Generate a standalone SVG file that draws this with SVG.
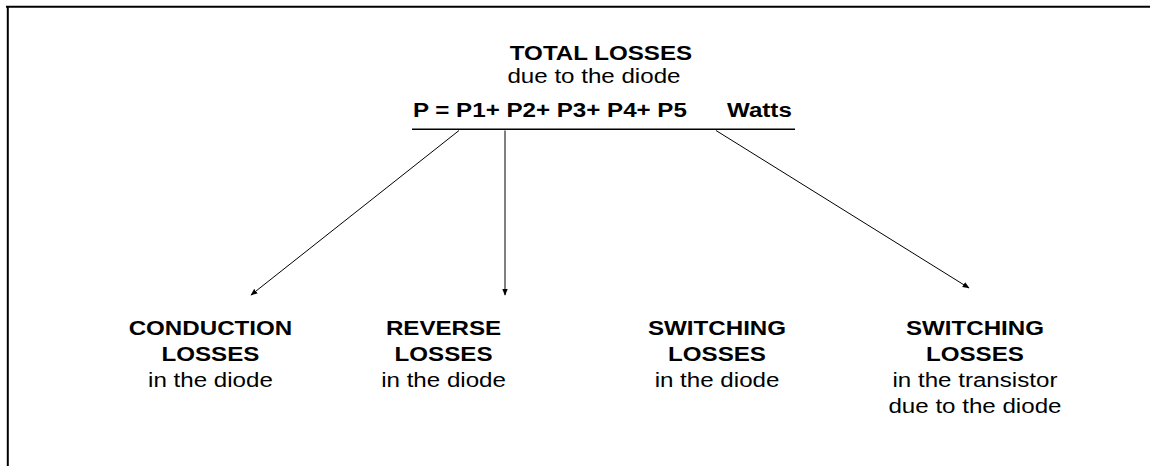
<svg xmlns="http://www.w3.org/2000/svg" width="1150" height="466" viewBox="0 0 1150 466">
<style>
text{font-family:"Liberation Sans",Arial,sans-serif;font-size:21px;fill:#000}
.b{font-weight:bold}
.c{text-anchor:middle}
.frame{stroke:#000;stroke-width:2;fill:none}
.conn{stroke:#000;stroke-width:1;fill:none;marker-end:url(#ah)}
</style>
<defs>
<marker id="ah" viewBox="0 0 10 10" refX="9" refY="5" markerWidth="7" markerHeight="7" markerUnits="userSpaceOnUse" orient="auto">
<path d="M0,1 L10,5 L0,9 Z" fill="#000"/>
</marker>
</defs>
<rect width="1150" height="466" fill="#fff"/>
<g id="frame">
<line class="frame" x1="6" y1="6.7" x2="1150" y2="6.7"/>
<line class="frame" x1="7.8" y1="6" x2="7.8" y2="466"/>
</g>
<g id="total">
<g transform="scale(1.15 1)">
<text class="b c" x="522.6" y="60">TOTAL LOSSES</text>
<text class="c" x="516.5" y="83">due to the diode</text>
<text class="b" x="359.1" y="117">P = P1+ P2+ P3+ P4+ P5</text>
<text class="b" x="632.2" y="117">Watts</text>
</g>
<line x1="412" y1="129.3" x2="795" y2="129.3" stroke="#000" stroke-width="1.6"/>
</g>
<g id="connectors">
<line class="conn" x1="459" y1="130.5" x2="251" y2="295"/>
<line class="conn" x1="505" y1="130.5" x2="505" y2="295"/>
<line class="conn" x1="716" y1="130.5" x2="969" y2="288"/>
</g>
<g id="conduction" transform="scale(1.15 1)">
<text class="b c" x="183" y="335">CONDUCTION</text>
<text class="b c" x="183" y="361">LOSSES</text>
<text class="c" x="183" y="387">in the diode</text>
</g>
<g id="reverse" transform="scale(1.15 1)">
<text class="b c" x="385.7" y="335">REVERSE</text>
<text class="b c" x="385.7" y="361">LOSSES</text>
<text class="c" x="385.7" y="387">in the diode</text>
</g>
<g id="switching-diode" transform="scale(1.15 1)">
<text class="b c" x="623.5" y="335">SWITCHING</text>
<text class="b c" x="623.5" y="361">LOSSES</text>
<text class="c" x="623.5" y="387">in the diode</text>
</g>
<g id="switching-transistor" transform="scale(1.15 1)">
<text class="b c" x="847.8" y="335">SWITCHING</text>
<text class="b c" x="847.8" y="361">LOSSES</text>
<text class="c" x="847.8" y="387">in the transistor</text>
<text class="c" x="847.8" y="413">due to the diode</text>
</g>
</svg>
